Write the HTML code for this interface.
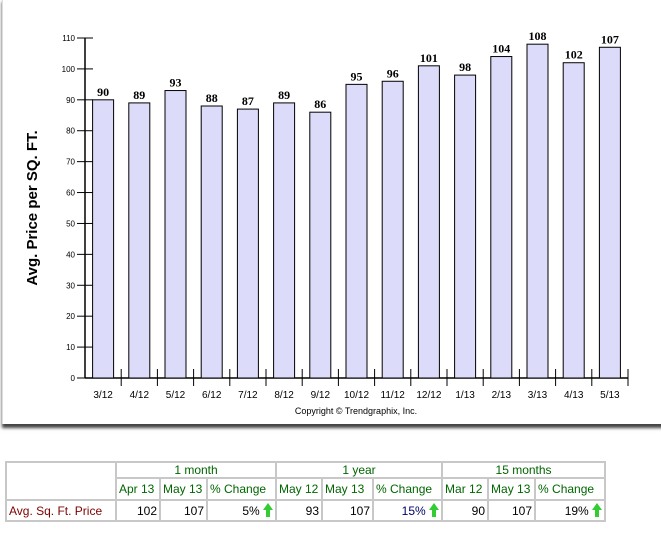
<!DOCTYPE html>
<html><head><meta charset="utf-8"><style>
body{margin:0;width:661px;height:534px;background:#fff;font-family:"Liberation Sans",sans-serif;position:relative;overflow:hidden}
#panel{position:absolute;left:2px;top:-2px;width:670px;height:426px;background:#fff;border-left:1px solid #ddd;box-shadow:0 4px 3px #444}
svg{position:absolute;left:0;top:0}
table{position:absolute;left:5px;top:461px;border-collapse:collapse;font-size:12px;table-layout:fixed;width:600px}
td{border:2px solid #c8c8c8;padding:0 2px;color:#060;white-space:nowrap;overflow:hidden}
.v{color:#000;text-align:right}
.h{text-align:center}
.upw{display:inline-block;position:relative;width:10px;height:14px;vertical-align:-2px}
.up{position:absolute;top:0;left:0;width:0;height:0;border-left:5px solid transparent;border-right:5px solid transparent;border-bottom:7px solid #3c3}
.upw:after{content:"";position:absolute;left:3px;top:6px;width:4px;height:8px;background:#3c3}
</style></head><body>
<div id="panel"></div>
<svg id="chart" width="661" height="534"></svg>
<table>
<colgroup><col style="width:110px"><col style="width:44px"><col style="width:47px"><col style="width:69px"><col style="width:46px"><col style="width:51px"><col style="width:69px"><col style="width:46px"><col style="width:47px"><col style="width:70px"></colgroup>
<tr style="height:16px"><td rowspan="2"></td><td colspan="3" class="h">1 month</td><td colspan="3" class="h">1 year</td><td colspan="3" class="h">15 months</td></tr>
<tr style="height:22px"><td>Apr 13</td><td>May 13</td><td>% Change</td><td>May 12</td><td>May 13</td><td>% Change</td><td>Mar 12</td><td>May 13</td><td>% Change</td></tr>
<tr style="height:21px"><td style="color:#800000">Avg. Sq. Ft. Price</td><td class="v">102</td><td class="v">107</td><td class="v">5% <span class="upw"><span class="up"></span></span></td><td class="v">93</td><td class="v">107</td><td class="v" style="color:#006">15% <span class="upw"><span class="up"></span></span></td><td class="v">90</td><td class="v">107</td><td class="v">19% <span class="upw"><span class="up"></span></span></td></tr>
</table>
<script>
const categories=["3/12","4/12","5/12","6/12","7/12","8/12","9/12","10/12","11/12","12/12","1/13","2/13","3/13","4/13","5/13"];
const values=[90,89,93,88,87,89,86,95,96,101,98,104,108,102,107];
const yTicks=[0,10,20,30,40,50,60,70,80,90,100,110];
const NS="http://www.w3.org/2000/svg",svg=document.getElementById('chart');
const x0=85,x1=628,y0=378,yTop=38,yMax=110;
const band=(x1-x0)/categories.length;
const y=v=>y0-(v/yMax)*(y0-yTop);
const xb=i=>x0+i*band;
function mk(t,a,txt){const e=document.createElementNS(NS,t);for(const k in a)e.setAttribute(k,a[k]);if(txt!=null)e.textContent=txt;svg.appendChild(e);return e;}
let e;
e=mk('line',{x1:x0,y1:yTop,x2:x0,y2:y0,stroke:'#000','stroke-width':1.5});


e=mk('line',{x1:x0,y1:y0,x2:x1,y2:y0,stroke:'#000','stroke-width':1.5});


yTicks.forEach(t=>{
 mk('line',{x1:x0-8,y1:y(t),x2:x0+8,y2:y(t),stroke:'#000'});
 e=mk('text',{x:x0-10,y:y(t)+3,'font-size':8,'text-anchor':'end'},t);
 
 
});
for(let i=1;i<=categories.length;i++){mk('line',{x1:xb(i),y1:y0-9,x2:xb(i),y2:y0+8,stroke:'#000'});}
categories.forEach((c,i)=>{
 const v=values[i],bw=21,bx=xb(i)+(band-bw)/2;
 e=mk('rect',{x:bx,y:y(v),width:bw,height:y0-y(v),fill:'#dcdcfa',stroke:'#000','stroke-width':1});
 
 
 e=mk('text',{x:bx+bw/2,y:y(v)-4,'font-size':12,'font-weight':'bold','text-anchor':'middle','font-family':'Liberation Serif,serif'},v);
 
 
 e=mk('text',{x:xb(i)+band/2,y:y0+20,'font-size':10,'text-anchor':'middle'},c);
 
 
});
e=mk('text',{x:37,y:208,'font-size':15,'font-weight':'bold','text-anchor':'middle',transform:'rotate(-90 37 208)'},'Avg. Price per SQ. FT.');


e=mk('text',{x:356,y:414,'font-size':9,'text-anchor':'middle'},'Copyright © Trendgraphix, Inc.');


</script>
</body></html>
